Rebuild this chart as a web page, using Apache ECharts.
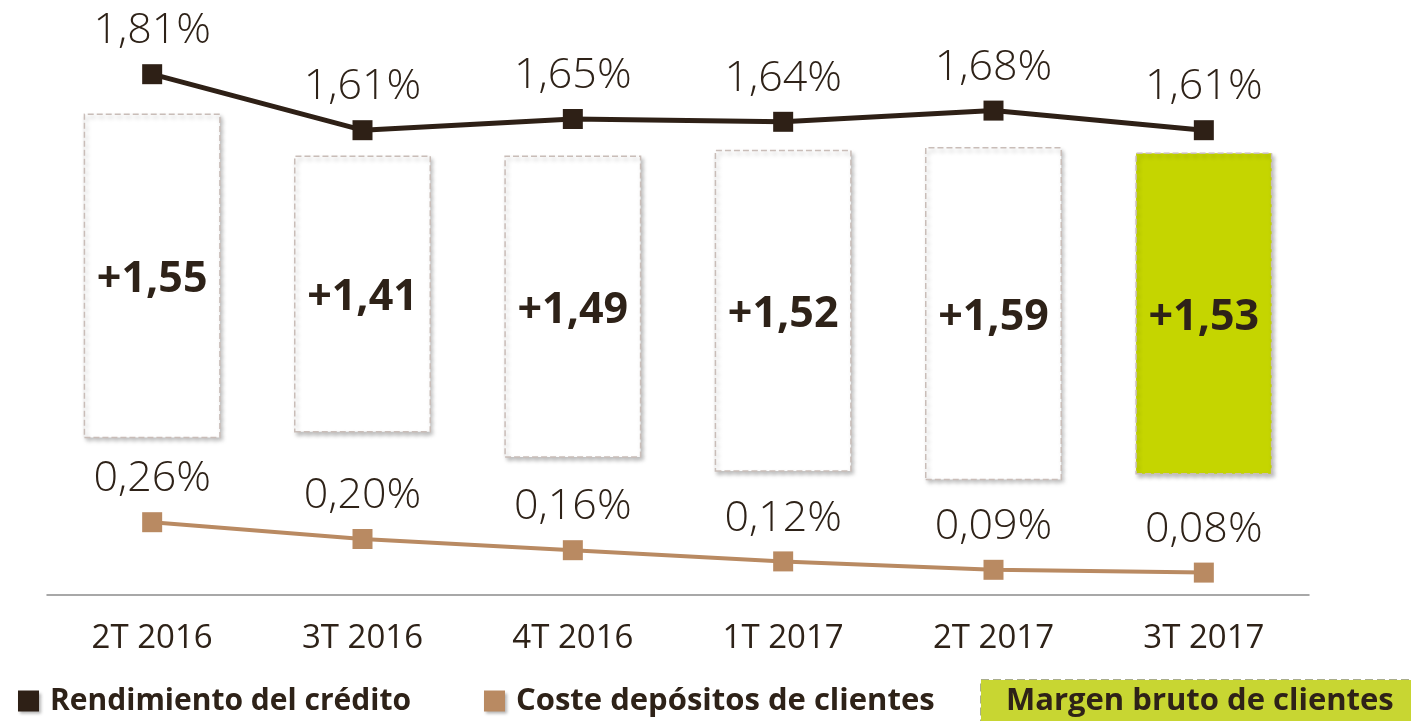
<!DOCTYPE html>
<html>
<head>
<meta charset="utf-8">
<script src="https://cdn.jsdelivr.net/npm/echarts@6/dist/echarts.min.js"></script>
<style>
    html, body { margin: 0; padding: 0; background: #fff; }
    .chart1 { width: 1411px; height: 721px; }
</style>
</head>
<body>
<div class="chart1"></div>
<script>
var categories = ['2T 2016', '3T 2016', '4T 2016', '1T 2017', '2T 2017', '3T 2017'];
var rendimiento = [1.81, 1.61, 1.65, 1.64, 1.68, 1.61];
var coste = [0.26, 0.20, 0.16, 0.12, 0.09, 0.08];
var margen = [1.55, 1.41, 1.49, 1.52, 1.59, 1.53];
// floating boxes (bottom and top on the coste scale)
var boxBottom = [0.56, 0.58, 0.49, 0.44, 0.41, 0.43];
var boxTop = [1.72, 1.57, 1.57, 1.59, 1.60, 1.58];

var textColor = '#2e2218';
var fontFamily = "'Open Sans', 'Noto Sans', sans-serif";

function pct(v) {
    return v.toFixed(2).replace('.', ',') + '%';
}

var myChart1;
function initChart1() {
    var chartDom = document.querySelector('.chart1');
    myChart1 = echarts.init(chartDom);
    var option;

    var boxData = [];
    for (let i = 0; i < categories.length; i++) {
        boxData.push({
            value: +(boxTop[i] - boxBottom[i]).toFixed(3),
            itemStyle: i === categories.length - 1 ? { color: '#c5d500' } : {}
        });
    }

    option = {
        animation: false,
        textStyle: { fontFamily: fontFamily },
        grid: {
            left: 47,
            right: 102,
            top: 35,
            bottom: 126
        },
        legend: [
            {
                left: 18,
                top: 683,
                padding: 0,
                itemWidth: 21,
                itemHeight: 21,
                icon: 'rect',
                selectedMode: false,
                data: ['Rendimiento del crédito'],
                itemStyle: { shadowBlur: 3, shadowOffsetX: 2, shadowOffsetY: 2, shadowColor: 'rgba(0,0,0,0.3)' },
                textStyle: { color: textColor, fontSize: 30, fontWeight: 'bold', fontFamily: fontFamily, lineHeight: 36, padding: [0, 0, 0, 6] }
            },
            {
                left: 484,
                top: 683,
                padding: 0,
                itemWidth: 21,
                itemHeight: 21,
                icon: 'rect',
                selectedMode: false,
                data: ['Coste depósitos de clientes'],
                itemStyle: { shadowBlur: 3, shadowOffsetX: 2, shadowOffsetY: 2, shadowColor: 'rgba(0,0,0,0.3)' },
                textStyle: { color: textColor, fontSize: 31, fontWeight: 'bold', fontFamily: fontFamily, lineHeight: 36, padding: [0, 0, 0, 6] }
            },
            {
                left: 976,
                top: 679,
                padding: 0,
                itemWidth: 0,
                itemHeight: 0,
                icon: 'none',
                selectedMode: false,
                data: ['Margen bruto de clientes'],
                textStyle: {
                    color: textColor,
                    fontSize: 31,
                    fontWeight: 'bold',
                    fontFamily: fontFamily,
                    lineHeight: 32,
                    backgroundColor: '#c8d632',
                    borderColor: '#a9ad8c',
                    borderWidth: 1,
                    borderType: 'dashed',
                    padding: [5, 25, 5, 25]
                }
            }
        ],
        xAxis: {
            type: 'category',
            data: categories,
            axisLine: { lineStyle: { color: '#8c8c8c', width: 1.5 } },
            axisTick: { show: false },
            axisLabel: {
                color: textColor,
                fontSize: 33,
                lineHeight: 34,
                margin: 27,
                fontFamily: fontFamily
            }
        },
        yAxis: [
            { type: 'value', min: 0, max: 2, show: false },
            { type: 'value', min: -0.05, max: 1.95, show: false }
        ],
        series: [
            {
                name: 'base',
                type: 'bar',
                stack: 'box',
                barWidth: 137,
                yAxisIndex: 0,
                itemStyle: { color: 'transparent' },
                data: boxBottom,
                silent: true
            },
            {
                name: 'Margen bruto de clientes',
                type: 'bar',
                stack: 'box',
                barWidth: 137,
                yAxisIndex: 0,
                itemStyle: {
                    color: '#ffffff',
                    borderColor: '#c9bdb8',
                    borderWidth: 1.5,
                    borderType: 'dashed',
                    shadowBlur: 4,
                    shadowOffsetX: 2,
                    shadowOffsetY: 3,
                    shadowColor: 'rgba(0,0,0,0.25)'
                },
                label: {
                    show: true,
                    position: 'inside',
                    offset: [0, 4],
                    color: textColor,
                    fontSize: 43,
                    fontWeight: 'bold',
                    fontFamily: fontFamily,
                    formatter: function (p) {
                        return '+' + margen[p.dataIndex].toFixed(2).replace('.', ',');
                    }
                },
                data: boxData
            },
            {
                name: 'Rendimiento del crédito',
                type: 'line',
                yAxisIndex: 1,
                data: rendimiento,
                symbol: 'rect',
                symbolSize: 20,
                itemStyle: { color: '#2e2016' },
                lineStyle: { color: '#2e2016', width: 5 },
                label: {
                    show: true,
                    position: 'top',
                    distance: 12,
                    color: textColor,
                    fontSize: 43,
                    lineHeight: 42,
                    fontWeight: 300,
                    fontFamily: fontFamily,
                    formatter: function (p) { return pct(p.value); }
                }
            },
            {
                name: 'Coste depósitos de clientes',
                type: 'line',
                yAxisIndex: 0,
                data: coste,
                symbol: 'rect',
                symbolSize: 20,
                itemStyle: { color: '#b98a62' },
                lineStyle: { color: '#b98a62', width: 4 },
                label: {
                    show: true,
                    position: 'top',
                    distance: 12,
                    color: textColor,
                    fontSize: 43,
                    lineHeight: 42,
                    fontWeight: 300,
                    fontFamily: fontFamily,
                    formatter: function (p) { return pct(p.value); }
                }
            }
        ]
    };

    option && myChart1.setOption(option);
}

document.addEventListener('DOMContentLoaded', function () {
    initChart1();
});

window.addEventListener('resize', () => {
    myChart1.resize();
})
</script>
</body>
</html>
